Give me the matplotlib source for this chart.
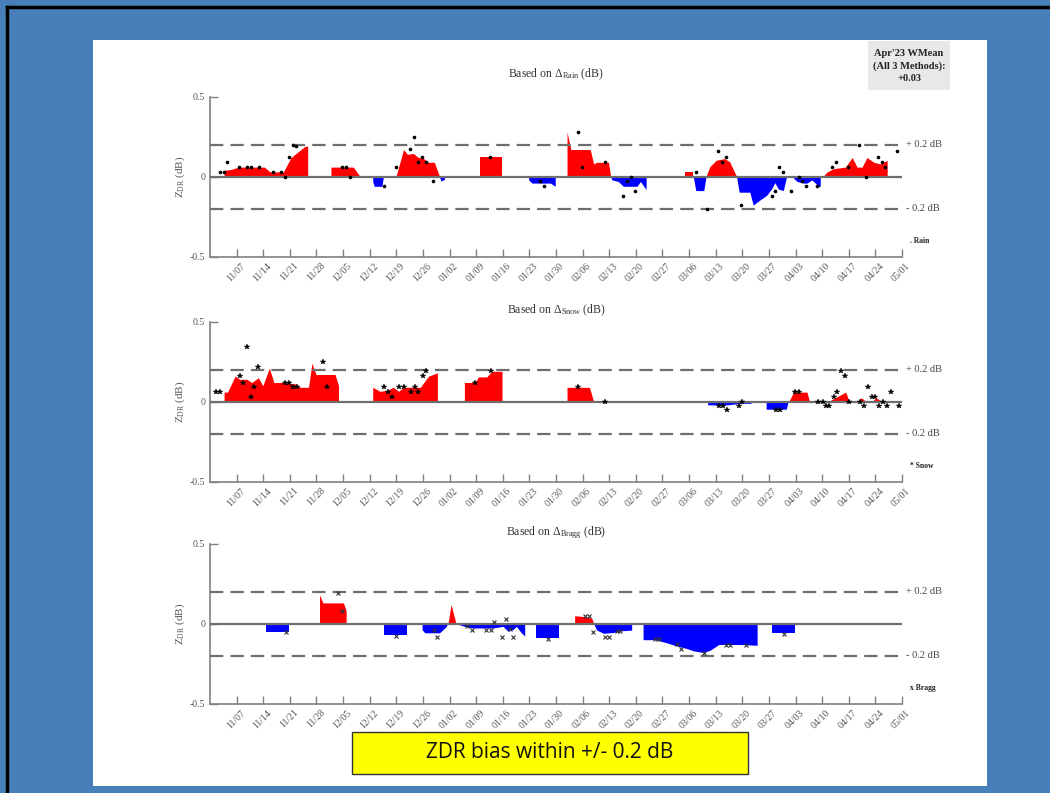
import numpy as np
import matplotlib
matplotlib.use('Agg')
import matplotlib.pyplot as plt
import matplotlib.dates as mdates
import pandas as pd
from matplotlib.patches import Rectangle
from matplotlib.lines import Line2D
from matplotlib.transforms import ScaledTranslation, blended_transform_factory

nan = np.nan
START = '2022-10-31'
END = '2023-05-01'
TICK_START = '2022-11-07'

# ---- Rain (days after START, ZDR bias dB); nan separates segments
rain_fill_day = [3.7, 5.5, 7.5, 14.3, 15.8, 19.3, 21.3, 25.0, 25.7, nan,
                 31.8, 37.7, 39.5, nan,
                 42.8, 43.2, 45.2, 45.6, nan,
                 48.9, 50.9, 51.9, 53.5, 54.8, 56.1, 57.5, 59.0, 60.4, 60.9, 61.8, nan,
                 70.9, 76.8, nan,
                 83.8, 84.7, 89.5, 90.8, nan,
                 93.9, 94.9, 100.0, 100.9, 101.7, 104.8, 105.4, 105.7, 107.4, 108.7, 110.9, 112.3, 113.2, 114.7, nan,
                 125.0, 127.0, nan,
                 127.3, 127.9, 130.0, 130.6, 131.6, 133.3, 135.5, 136.8, 138.6, 139.3, 142.1, 143.0, 144.7,
                 146.5, 147.8, 148.7, 149.6, 150.9, 151.8, nan,
                 153.5, 154.4, 156.1, 157.0, 158.3, 160.1, 160.5, nan,
                 161.2, 162.3, 164.0, 167.1, 168.9, 170.2, 171.5, 172.8, 174.6, 176.3, 177.9, 178.1]
rain_fill_val = [0.04, 0.045, 0.06, 0.06, 0.03, 0.03, 0.12, 0.19, 0.19, nan,
                 0.06, 0.06, 0.0, nan,
                 -0.03, -0.06, -0.06, 0.0, nan,
                 0.0, 0.17, 0.14, 0.145, 0.12, 0.115, 0.09, 0.09, 0.0, -0.03, -0.02, nan,
                 0.12, 0.12, nan,
                 -0.02, -0.04, -0.04, -0.06, nan,
                 0.28, 0.17, 0.17, 0.08, 0.09, 0.09, 0.0, -0.02, -0.03, -0.06, -0.06, -0.06, -0.03, -0.08, nan,
                 0.03, 0.03, nan,
                 -0.01, -0.09, -0.09, 0.0, 0.06, 0.10, 0.11, 0.09, 0.0, -0.10, -0.10, -0.18, -0.15,
                 -0.12, -0.08, -0.04, -0.08, -0.09, 0.0, nan,
                 -0.01, -0.03, -0.04, -0.04, -0.02, -0.06, -0.06, nan,
                 0.0, 0.03, 0.05, 0.06, 0.12, 0.06, 0.06, 0.12, 0.09, 0.08, 0.10, 0.10]
rain_pt_day = [2.6, 3.7, 4.6, 7.7, 9.6, 10.8, 12.8, 16.6, 18.8, 19.7, 20.8, 21.7, 22.7, 34.6, 35.7, 36.8,
               45.7, 48.8, 52.7, 53.7, 54.7, 55.8, 56.7, 58.7, 73.7, 86.7, 87.8, 96.8, 97.8, 103.8,
               108.7, 109.6, 110.7, 111.7, 127.7, 130.7, 133.7, 134.7, 135.7, 139.7, 147.7, 148.7,
               149.7, 150.7, 152.8, 154.8, 155.8, 156.7, 159.7, 163.7, 164.6, 167.7, 170.7, 172.6,
               175.7, 176.7, 177.6, 180.8]
rain_pt_val = [0.03, 0.03, 0.09, 0.06, 0.06, 0.06, 0.06, 0.03, 0.03, 0.0, 0.12, 0.195, 0.19, 0.06, 0.06, 0.0,
               -0.06, 0.06, 0.175, 0.25, 0.09, 0.12, 0.09, -0.03, 0.12, -0.03, -0.06, 0.28, 0.06, 0.09,
               -0.12, -0.03, 0.0, -0.09, 0.03, -0.2, 0.16, 0.09, 0.12, -0.18, -0.12, -0.09,
               0.06, 0.03, -0.09, 0.0, -0.03, -0.06, -0.06, 0.06, 0.09, 0.06, 0.195, 0.0,
               0.12, 0.09, 0.06, 0.16]

# ---- Snow
snow_fill_day = [3.7, 4.6, 6.6, 7.8, 9.7, 11.0, 12.7, 13.9, 15.6, 16.8, 19.3, 22.8, 23.7, 25.9, 26.8, 27.9, 32.9, 33.8, nan,
                 42.8, 44.7, 46.5, 48.2, 49.6, 50.9, 55.3, 57.5, 59.8, nan,
                 66.9, 69.7, 70.6, 72.8, 74.1, 76.8, nan,
                 93.9, 99.8, 100.9, nan,
                 130.9, 136.0, 139.5, 142.3, nan,
                 146.4, 151.7, 152.2, 153.5, 157.0, 157.7, nan,
                 159.2, 160.0, nan,
                 162.4, 163.3, 167.2, 168.1, nan,
                 170.4, 171.3, 172.6, nan,
                 174.2, 175.1, 176.8]
snow_fill_val = [0.06, 0.06, 0.16, 0.14, 0.14, 0.12, 0.15, 0.10, 0.21, 0.12, 0.12, 0.11, 0.09, 0.09, 0.24, 0.17, 0.17, 0.10, nan,
                 0.09, 0.065, 0.07, 0.09, 0.065, 0.09, 0.09, 0.16, 0.18, nan,
                 0.12, 0.12, 0.155, 0.155, 0.19, 0.19, nan,
                 0.09, 0.09, 0.0, nan,
                 -0.02, -0.02, -0.01, -0.01, nan,
                 -0.05, -0.05, 0.0, 0.06, 0.06, 0.0, nan,
                 -0.01, -0.01, nan,
                 0.0, 0.01, 0.06, 0.0, nan,
                 0.0, 0.025, 0.0, nan,
                 0.0, 0.025, 0.0]
snow_pt_day = [1.6, 2.6, 7.8, 8.8, 9.7, 10.7, 11.7, 12.7, 19.7, 20.9, 21.8, 22.8, 29.6, 30.7, 45.8, 46.8,
               47.8, 49.8, 50.9, 52.8, 53.9, 54.8, 55.9, 56.8, 69.7, 73.9, 96.9, 103.9, 133.9, 134.9,
               136.0, 139.0, 139.9, 148.9, 150.0, 153.9, 154.9, 160.0, 161.1, 161.9, 162.9, 164.0,
               165.0, 166.0, 166.9, 168.0, 171.0, 171.9, 173.0, 174.0, 175.0, 176.0, 177.0, 178.0,
               179.0, 181.1]
snow_pt_val = [0.06, 0.06, 0.16, 0.12, 0.34, 0.03, 0.09, 0.22, 0.12, 0.12, 0.09, 0.09, 0.25, 0.09, 0.09, 0.06,
               0.03, 0.09, 0.09, 0.06, 0.09, 0.06, 0.16, 0.19, 0.12, 0.19, 0.09, 0.0, -0.025, -0.025,
               -0.05, -0.025, 0.0, -0.05, -0.05, 0.06, 0.06, 0.0, 0.0, -0.025, -0.025, 0.03,
               0.06, 0.19, 0.16, 0.0, 0.0, -0.025, 0.09, 0.03, 0.03, -0.025, 0.0, -0.025,
               0.06, -0.025]

# ---- Bragg
bragg_fill_day = [14.7, 20.8, nan,
                  28.8, 29.7, 35.1, 35.8, nan,
                  45.8, 51.8, nan,
                  55.9, 56.6, 60.5, 61.4, 62.3, 62.6, 63.4, 64.7, 65.8, 67.1, 69.3, 74.6, 77.2, 78.5,
                  79.8, 80.7, 82.0, 82.9, nan,
                  85.8, 91.7, nan,
                  95.9, 98.2, 100.4, 100.9, 101.7, 103.5, 106.1, 107.9, 110.9, nan,
                  113.9, 117.1, 120.2, 122.8, 125.4, 127.2, 129.8, 131.6, 133.8, 139.5, 143.9, nan,
                  147.9, 153.9]
bragg_fill_val = [-0.05, -0.05, nan,
                  0.18, 0.13, 0.13, 0.08, nan,
                  -0.07, -0.07, nan,
                  -0.04, -0.06, -0.06, -0.04, -0.02, 0.0, 0.12, 0.0, -0.01, -0.02, -0.03, -0.03, -0.02, -0.05,
                  -0.04, -0.02, -0.06, -0.08, nan,
                  -0.09, -0.09, nan,
                  0.05, 0.045, 0.035, 0.0, -0.04, -0.06, -0.055, -0.045, -0.04, nan,
                  -0.10, -0.10, -0.12, -0.14, -0.155, -0.17, -0.18, -0.165, -0.13, -0.13, -0.135, nan,
                  -0.06, -0.06]
bragg_pt_day = [20.0, 33.7, 34.7, 48.9, 58.8, 59.8, 67.7, 68.8, 72.7, 73.8, 74.8, 76.7, 77.9, 78.8, 79.8,
                88.9, 98.6, 99.8, 100.7, 103.9, 105.0, 107.0, 107.9, 117.1, 118.1, 122.8, 123.9,
                129.8, 135.7, 136.8, 141.0, 150.9]
bragg_pt_val = [-0.05, 0.19, 0.08, -0.075, -0.04, -0.085, -0.015, -0.04, -0.04, -0.04, 0.01, -0.085, 0.03, -0.03, -0.085,
                -0.095, 0.05, 0.05, -0.05, -0.085, -0.085, -0.045, -0.045, -0.095, -0.095, -0.125, -0.155,
                -0.18, -0.13, -0.13, -0.135, -0.065]

THRESH = 0.2
WMEAN_TEXT = "Apr'23 WMean\n(All 3 Methods):\n+0.03"
BANNER = "ZDR bias within +/- 0.2 dB"

plt.rcParams['font.family'] = ['Liberation Serif', 'DejaVu Serif']
plt.rcParams['mathtext.fontset'] = 'custom'
plt.rcParams['mathtext.rm'] = 'Liberation Serif'
plt.rcParams['mathtext.it'] = 'Liberation Serif:italic'
plt.rcParams['mathtext.bf'] = 'Liberation Serif:bold'

W, H = 1050, 793
fig = plt.figure(figsize=(W / 100, H / 100), dpi=100)
fig.patch.set_facecolor('#4780b9')

# slide white area and frame
fig.add_artist(Rectangle((93 / W, 1 - 786 / H), 894 / W, 746 / H, transform=fig.transFigure,
                         facecolor='white', edgecolor='none', zorder=0))
fig.add_artist(Line2D([6.5 / W, 1], [1 - 6.5 / H, 1 - 6.5 / H], transform=fig.transFigure,
                      color='black', lw=2.5))
fig.add_artist(Line2D([6.5 / W, 6.5 / W], [0, 1 - 6.5 / H], transform=fig.transFigure,
                      color='black', lw=2.5))

start_num = mdates.date2num(np.datetime64(START))
end_num = mdates.date2num(np.datetime64(END))
ticks = pd.date_range(TICK_START, END, freq='7D')


def split(days, vals):
    d = np.array(days, float)
    v = np.array(vals, float)
    segs, cur = [], []
    for a, b in zip(d, v):
        if np.isnan(a):
            if cur:
                segs.append(np.array(cur))
            cur = []
        else:
            cur.append((a, b))
    if cur:
        segs.append(np.array(cur))
    return segs


panels = [
    (1 - 256.7 / H, 'Rain', rain_fill_day, rain_fill_val, rain_pt_day, rain_pt_val,
     dict(marker='o', ms=1.6, color='black', ls='none'), '. Rain', 14),
    (1 - 481.7 / H, 'Snow', snow_fill_day, snow_fill_val, snow_pt_day, snow_pt_val,
     dict(marker='*', ms=4, color='black', ls='none', mew=0.3), '* Snow', 6),
    (1 - 703.7 / H, 'Bragg', bragg_fill_day, bragg_fill_val, bragg_pt_day, bragg_pt_val,
     dict(marker='x', ms=2.6, color='#333333', ls='none', mew=0.8), 'x Bragg', 6),
]

gray = '#808080'
for bottom, name, fd, fv, pd_, pv, mkw, legtxt, tpad in panels:
    ax = fig.add_axes([210 / W, bottom, 692 / W, 160 / H])
    ax.set_facecolor('none')
    for s in split(fd, fv):
        x = start_num + s[:, 0]
        y = s[:, 1]
        ax.fill_between(x, 0, y, where=y >= 0, interpolate=True, color='#ff0000', lw=0, zorder=2)
        ax.fill_between(x, 0, y, where=y <= 0, interpolate=True, color='#0000ff', lw=0, zorder=2)
    ax.plot(start_num + np.array(pd_), pv, zorder=4, **mkw)
    ax.axhline(0, color='#6e6e6e', lw=1.6, zorder=3)
    for t in (THRESH, -THRESH):
        ax.axhline(t, color='#6e6e6e', lw=1.6, dashes=(6, 3.2), zorder=3)
    ax.set_xlim(start_num, end_num)
    ax.set_ylim(-0.5, 0.5)
    ax.set_yticks([-0.5, 0, 0.5])
    ax.set_yticklabels(['-0.5', '0', '0.5'])
    ax.set_xticks(mdates.date2num(ticks.to_pydatetime()))
    ax.xaxis.set_major_formatter(mdates.DateFormatter('%m/%d'))
    ax.tick_params(direction='in', length=6, width=1, color=gray, labelsize=7, labelcolor='#555555')
    for lab in ax.get_xticklabels():
        lab.set_rotation(45)
        lab.set_ha('right')
        lab.set_va('center')
        lab.set_rotation_mode('anchor')
        lab.set_transform(lab.get_transform() + ScaledTranslation(5 / 72, -2 / 72, fig.dpi_scale_trans))
    for sp in ('top', 'right'):
        ax.spines[sp].set_visible(False)
    for sp in ('left', 'bottom'):
        ax.spines[sp].set_color(gray)
        ax.spines[sp].set_linewidth(1.2)
    ax.set_ylabel(r'$\mathrm{Z_{DR}}$ (dB)', fontsize=8, color='#555555')
    ax.yaxis.set_label_coords(-0.033, 0.5)
    ax.set_title(r'Based on $\Delta_{\mathrm{%s}}$ (dB)' % name, fontsize=8.5, color='#333333', pad=tpad)
    tr = blended_transform_factory(ax.transAxes, ax.transData)
    ax.text(1.006, THRESH, '+ 0.2 dB', transform=tr, fontsize=7.5, color='#444444', va='center', ha='left')
    ax.text(1.006, -THRESH, '- 0.2 dB', transform=tr, fontsize=7.5, color='#444444', va='center', ha='left')
    ax.text(1.011, -0.40, legtxt, transform=tr, fontsize=5.5, fontweight='bold', color='#222222',
            va='center', ha='left')

# WMean box
fig.add_artist(Rectangle((868 / W, 1 - 89.5 / H), 82 / W, 48 / H, transform=fig.transFigure,
                         facecolor='#e8e8e8', edgecolor='none', zorder=1))
fig.text(909 / W, 1 - 66 / H, WMEAN_TEXT, ha='center', va='center', fontsize=7.5, fontweight='bold',
         color='#222222', linespacing=1.45)

# banner
fig.add_artist(Rectangle((352 / W, 1 - 774 / H), 396 / W, 42 / H, transform=fig.transFigure,
                         facecolor='#ffff00', edgecolor='#333333', lw=1, zorder=1))
fig.text(550 / W, 1 - 753 / H, BANNER, ha='center', va='center', fontsize=15,
         family=['Open Sans', 'DejaVu Sans'], color='#111111')

fig.savefig('out.png', dpi=100, facecolor=fig.get_facecolor())
